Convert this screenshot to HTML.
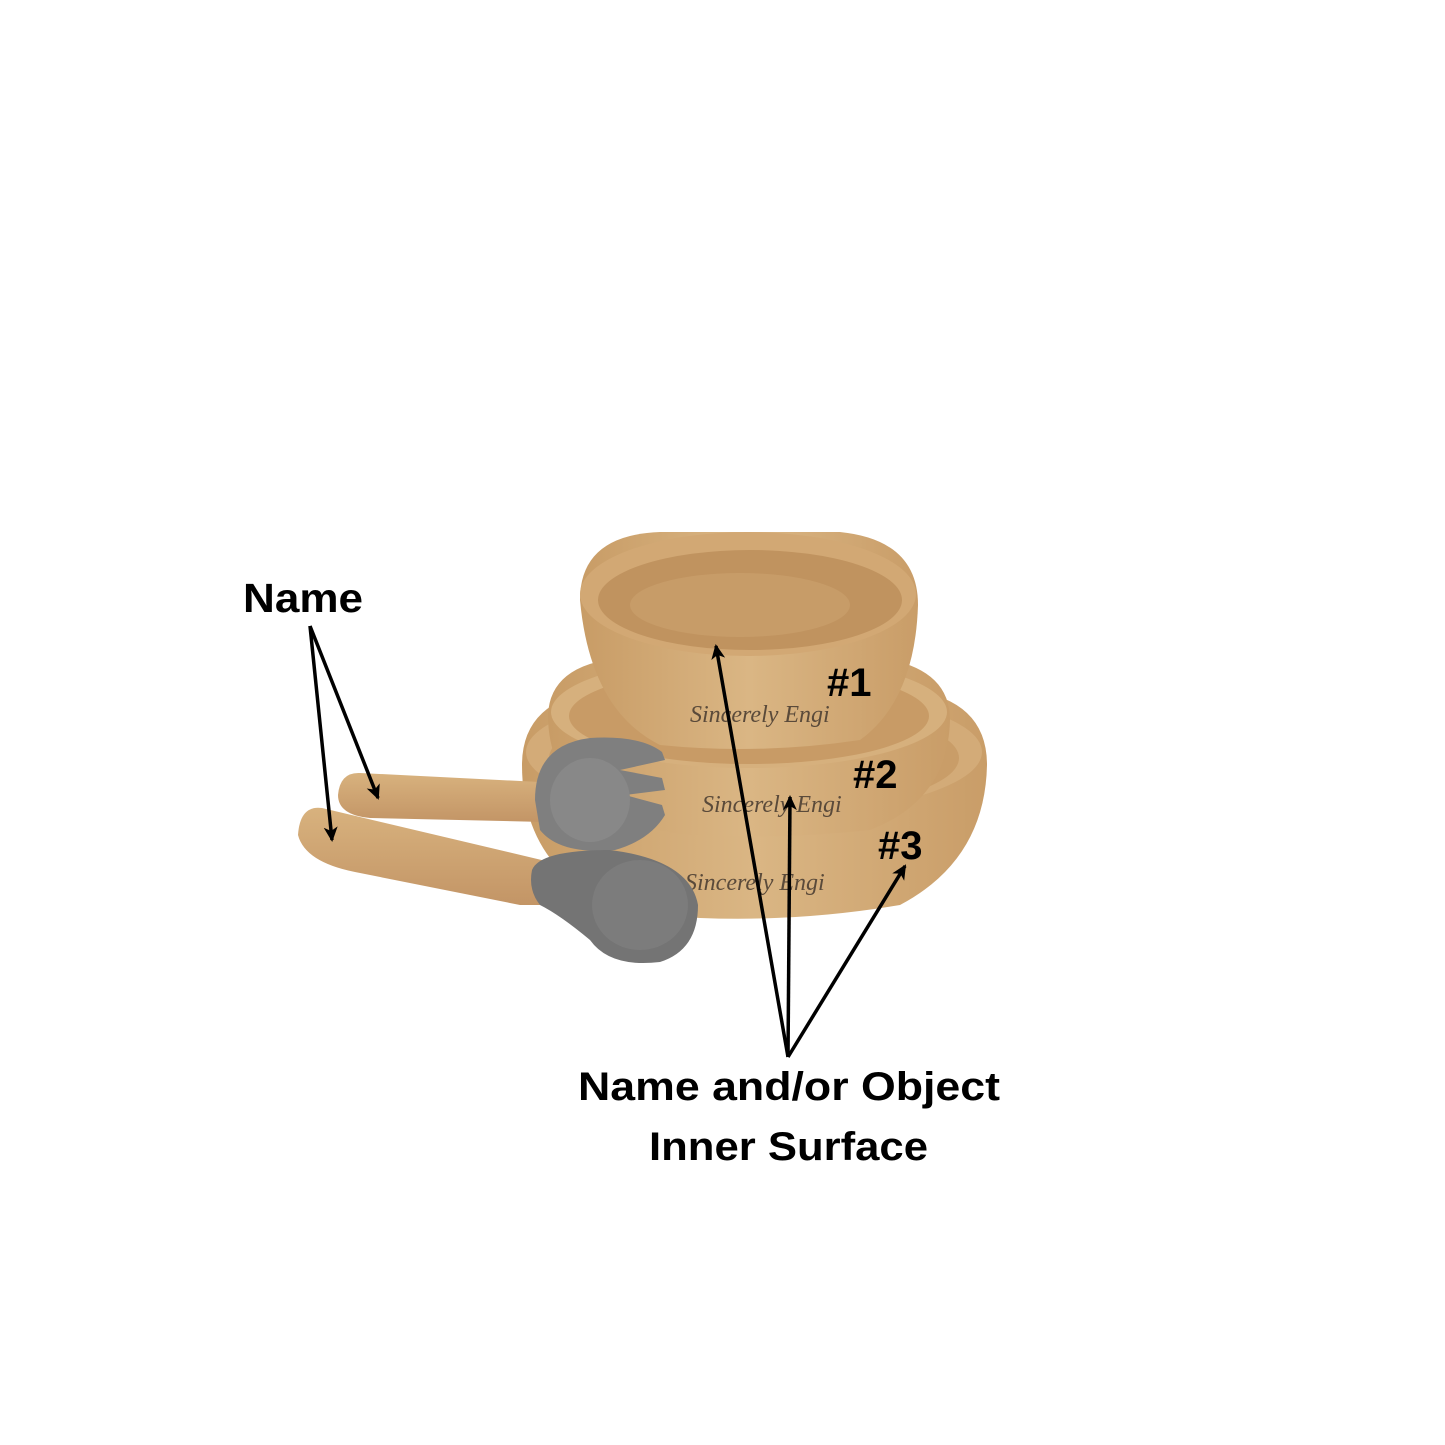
<!DOCTYPE html>
<html><head><meta charset="utf-8"><style>
html,body{margin:0;padding:0;background:#fff;}
svg{display:block}
</style></head><body>
<svg width="1445" height="1445" viewBox="0 0 1445 1445" xmlns="http://www.w3.org/2000/svg">
<defs>
<marker id="ah" markerWidth="16" markerHeight="16" refX="13" refY="8" orient="auto" markerUnits="userSpaceOnUse">
<path d="M0,1 L15,8 L0,15 L4,8 z" fill="#000"/>
</marker>
<linearGradient id="wood" x1="0" x2="1" y1="0" y2="0">
<stop offset="0" stop-color="#c89c66"/><stop offset="0.5" stop-color="#dab684"/><stop offset="1" stop-color="#c99d68"/>
</linearGradient>
<linearGradient id="woodv" x1="0" x2="0" y1="0" y2="1">
<stop offset="0" stop-color="#d8b27e"/><stop offset="1" stop-color="#c39566"/>
</linearGradient>
</defs>
<rect width="1445" height="1445" fill="#fff"/>

<!-- bowl 3 -->
<path d="M522,765 Q522,700 600,690 L910,690 Q987,700 987,765 Q985,860 900,905 Q800,922 700,918 Q600,912 560,870 Q522,830 522,765 z" fill="url(#wood)"/>
<ellipse cx="754" cy="752" rx="228" ry="64" fill="#d3ab78"/>
<ellipse cx="754" cy="758" rx="205" ry="55" fill="#c99d68"/>
<!-- bowl 2 -->
<path d="M548,715 Q550,665 620,658 L880,658 Q950,668 950,720 Q948,800 870,830 Q780,840 690,835 Q600,825 575,790 Q548,760 548,715 z" fill="url(#wood)"/>
<ellipse cx="749" cy="712" rx="198" ry="56" fill="#d6b07d"/>
<ellipse cx="749" cy="716" rx="180" ry="48" fill="#c89b66"/>
<!-- bowl 1 -->
<path d="M580,600 Q580,535 660,532 L840,532 Q918,540 918,605 Q915,700 860,740 Q760,755 660,745 Q590,710 580,600 z" fill="url(#wood)"/>
<ellipse cx="748" cy="594" rx="168" ry="62" fill="#d2a874"/>
<ellipse cx="750" cy="600" rx="152" ry="50" fill="#c0935f"/>
<ellipse cx="740" cy="605" rx="110" ry="32" fill="#cba06c" opacity="0.7"/>

<!-- engravings -->
<text x="690" y="722" font-family="Liberation Serif,serif" font-style="italic" font-size="24" fill="#5a4a3a">Sincerely Engi</text>
<text x="702" y="812" font-family="Liberation Serif,serif" font-style="italic" font-size="24" fill="#5a4a3a">Sincerely Engi</text>
<text x="685" y="890" font-family="Liberation Serif,serif" font-style="italic" font-size="24" fill="#5a4a3a">Sincerely Engi</text>

<!-- handles -->
<path d="M360,773 L540,782 L545,822 L370,818 Q338,815 338,795 Q340,772 360,773 z" fill="url(#woodv)"/>
<path d="M322,808 L550,862 L548,905 L520,905 L355,872 Q305,862 298,835 Q300,805 322,808 z" fill="url(#woodv)"/>
<!-- fork head -->
<path d="M535,800 Q535,745 590,738 Q640,735 662,752 L665,760 L620,770 L662,778 L665,790 L625,795 L662,805 L665,815 Q650,840 615,850 Q560,855 540,830 z" fill="#7f7f7f"/>
<ellipse cx="590" cy="800" rx="40" ry="42" fill="#888"/>
<!-- spoon head -->
<path d="M532,870 Q540,850 610,850 Q690,860 698,905 Q698,950 660,962 Q610,968 590,940 Q560,915 540,905 Q528,890 532,870 z" fill="#747474"/>
<ellipse cx="640" cy="905" rx="48" ry="45" fill="#7c7c7c"/>

<!-- labels -->
<g font-family="Liberation Sans,sans-serif" font-weight="bold" fill="#000">
<text x="243" y="612" font-size="41" textLength="120" lengthAdjust="spacingAndGlyphs">Name</text>
<text x="827" y="696" font-size="40">#1</text>
<text x="853" y="788" font-size="40">#2</text>
<text x="878" y="859" font-size="40">#3</text>
<text x="578" y="1100" font-size="40" textLength="422" lengthAdjust="spacingAndGlyphs">Name and/or Object</text>
<text x="649" y="1160" font-size="40" textLength="279" lengthAdjust="spacingAndGlyphs">Inner Surface</text>
</g>

<!-- arrows -->
<g stroke="#000" stroke-width="3.5" fill="none" marker-end="url(#ah)">
<line x1="310" y1="626" x2="332" y2="840"/>
<line x1="310" y1="626" x2="378" y2="798"/>
<line x1="788" y1="1057" x2="716" y2="646"/>
<line x1="788" y1="1057" x2="790" y2="797"/>
<line x1="788" y1="1057" x2="905" y2="866"/>
</g>
</svg>
</body></html>
